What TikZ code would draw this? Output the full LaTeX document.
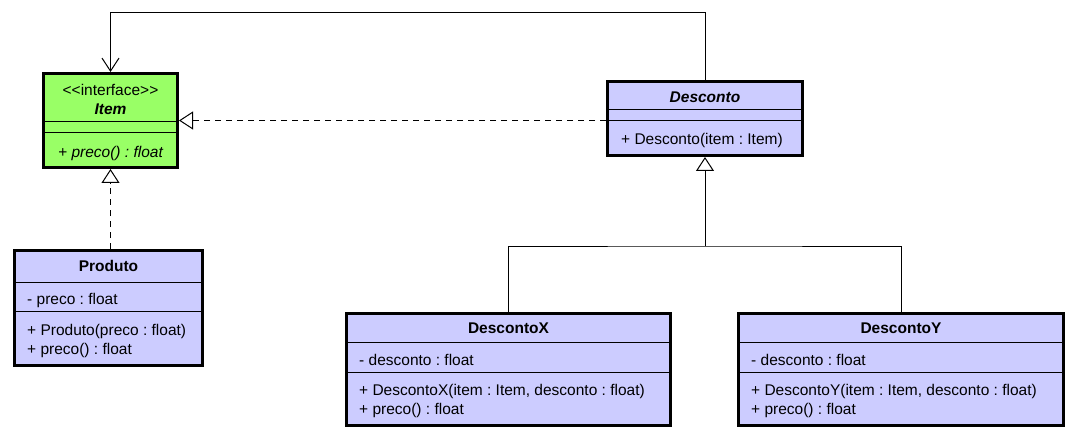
\documentclass[tikz,border=0pt]{standalone}
\usepackage{fontspec}
\setmainfont{Liberation Sans}
\usetikzlibrary{arrows.meta,positioning}
\definecolor{verde}{RGB}{153,255,102}
\definecolor{lilas}{RGB}{204,204,255}
\frenchspacing
\tikzset{
  classe/.style={draw,line width=3pt,fill=#1,inner sep=0pt},
  txt/.style={inner sep=0pt,anchor=mid,font=\fontsize{15.5}{18}\selectfont},
  esq/.style={txt,anchor=mid west},
  divide/.style={line width=1pt},
  assoc/.style={line width=1pt,-{Straight Barb[length=13pt,width=17pt]}},
  realiza/.style={line width=1pt,dash pattern=on 6pt off 5pt,-{Triangle[open,length=14pt,width=18pt,line width=1pt]}},
  heranca/.style={line width=1pt,-{Triangle[open,length=14pt,width=18pt,line width=1pt]}}
}

\begin{document}
\begin{tikzpicture}[x=1pt,y=-1pt]
	\useasboundingbox (0,0) rectangle (1077,441);
	\node[classe=verde,minimum width=134,minimum height=94] (item) at (110.5,120.5) {};
	\node[classe=lilas,minimum width=195,minimum height=74] (desconto) at (705,118.5) {};
	\node[classe=lilas,minimum width=188,minimum height=115] (produto) at (108.5,308) {};
	\node[classe=lilas,minimum width=324,minimum height=112] (descontoX) at (508.5,369.5) {};
	\node[classe=lilas,minimum width=325,minimum height=112] (descontoY) at (901,369.5) {};
	\foreach \n/\a/\b in {item/122/133,desconto/110/121,produto/282/311,descontoX/342/372,descontoY/342/372}
		\draw[divide] (\n.west |- 0,\a) -- (\n.east |- 0,\a) (\n.west |- 0,\b) -- (\n.east |- 0,\b);
	% textos
	\node[txt] (itemEst) at (110.5,93) {<\kern0pt<interface>\kern0pt>};
	\node[txt] (itemNome) at (110.5,112) {\bfseries\itshape Item};
	\node[txt] (itemOp) at (110.5,155) {\itshape + preco() : float};
	\node[txt] (descNome) at (705,100) {\bfseries\itshape Desconto};
	\node[esq] (descOp) at (621,142) {+ Desconto(item : Item)};
	\node[txt] (prodNome) at (108.5,269) {\bfseries Produto};
	\node[esq] (prodAtr) at (27,302) {- preco : float};
	\node[esq] (prodOp1) at (27,333) {+ Produto(preco : float)};
	\node[esq] (prodOp2) at (27,352) {+ preco() : float};
	\node[txt] (xNome) at (508.5,331) {\bfseries DescontoX};
	\node[esq] (xAtr) at (359,363) {- desconto : float};
	\node[esq] (xOp1) at (359,393) {+ DescontoX(item : Item, desconto : float)};
	\node[esq] (xOp2) at (359,412) {+ preco() : float};
	\node[txt] (yNome) at (901,331) {\bfseries DescontoY};
	\node[esq] (yAtr) at (751,363) {- desconto : float};
	\node[esq] (yOp1) at (751,393) {+ DescontoY(item : Item, desconto : float)};
	\node[esq] (yOp2) at (751,412) {+ preco() : float};
	% ligacoes
	\coordinate (topo) at (0,13);
	\coordinate (juncao) at (desconto.south |- 0,246);
	\draw[assoc] (desconto.north) -- (desconto.north |- topo) -| (item.north);
	\draw[realiza] (desconto.west |- item.east) -- (item.east);
	\draw[realiza] (item.south |- produto.north) -- (item.south);
	\draw[line width=1pt] (descontoX.north) |- (juncao) -| (descontoY.north);
	\draw[heranca] (juncao) -- (desconto.south);
\end{tikzpicture}
\end{document}
